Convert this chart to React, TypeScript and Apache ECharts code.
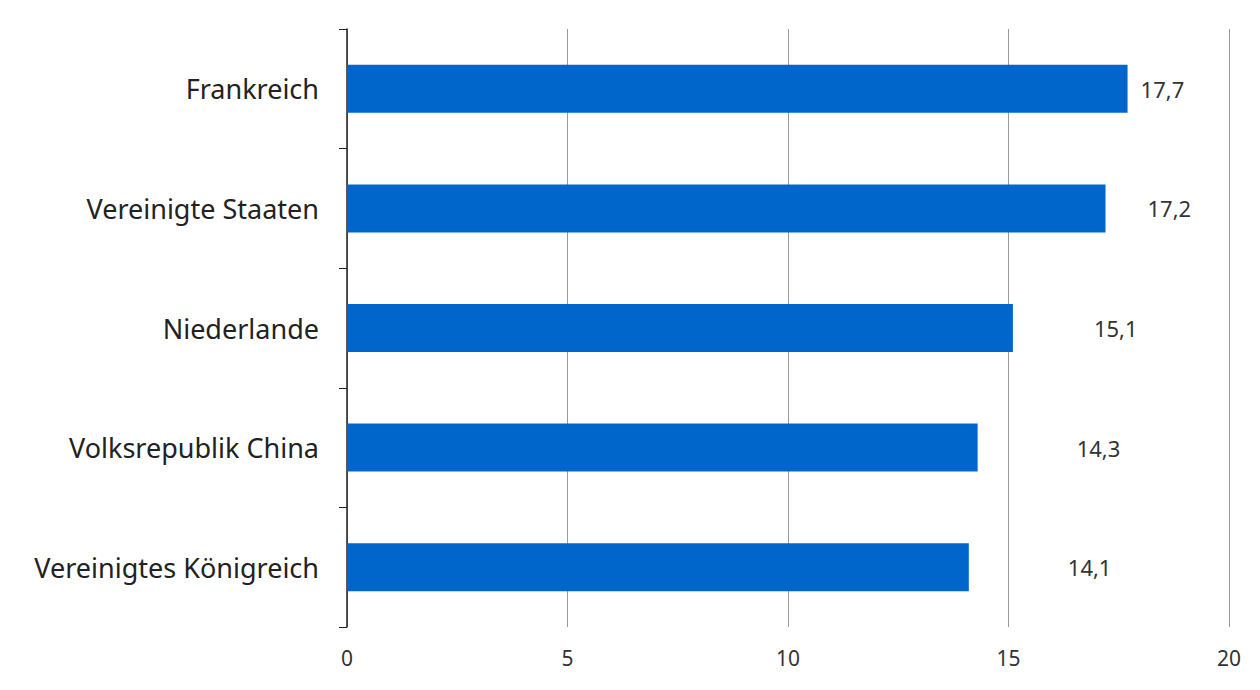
import React, { useEffect, useRef } from "react";
import * as echarts from "echarts";

const categories = [
  "Frankreich",
  "Vereinigte Staaten",
  "Niederlande",
  "Volksrepublik China",
  "Vereinigtes Königreich",
];
const values = [17.7, 17.2, 15.1, 14.3, 14.1];
const xTicks = [0, 5, 10, 15, 20];

// label offsets (px) to the right of each bar end, as placed in the reference
const labelOffsets = [13, 42, 81, 99, 99];

const FONT = "'Noto Sans', 'Open Sans', sans-serif";

export default function App() {
  const ref = useRef<HTMLDivElement>(null);
  useEffect(() => {
    if (!ref.current) return;
    const chart = echarts.init(ref.current, undefined, { renderer: "svg" });
    chart.setOption({
      animation: false,
      backgroundColor: "#ffffff",
      textStyle: { fontFamily: FONT },
      grid: { left: 347, right: 31, top: 29, bottom: 63, containLabel: false },
      xAxis: {
        type: "value",
        min: xTicks[0],
        max: xTicks[xTicks.length - 1],
        interval: 5,
        axisLine: { show: false },
        axisTick: { show: false },
        axisLabel: {
          color: "#333333",
          fontSize: 21,
          fontFamily: FONT,
          margin: 20,
          formatter: (v: number) => String(v),
        },
        splitLine: { show: true, lineStyle: { color: "#9a9a9a", width: 1 } },
      },
      yAxis: {
        type: "category",
        data: categories,
        inverse: true,
        axisLine: { show: true, lineStyle: { color: "#222222", width: 1.5 } },
        axisTick: { show: true, length: 8, lineStyle: { color: "#222222", width: 1 } },
        axisLabel: {
          color: "#222222",
          fontSize: 27,
          fontFamily: FONT,
          margin: 28,
        },
        splitLine: { show: false },
      },
      series: [
        {
          type: "bar",
          barWidth: 48,
          itemStyle: { color: "#0066cc" },
          data: values.map((v, i) => ({
            value: v,
            label: {
              show: true,
              position: "right",
              distance: labelOffsets[i],
              color: "#333333",
              fontSize: 22,
              fontFamily: FONT,
              formatter: (p: any) => String(p.value).replace(".", ","),
            },
          })),
        },
      ],
    });
    return () => chart.dispose();
  }, []);
  return (
    <div
      ref={ref}
      style={{ position: "fixed", left: 0, top: 0, width: 1260, height: 690 }}
    />
  );
}
